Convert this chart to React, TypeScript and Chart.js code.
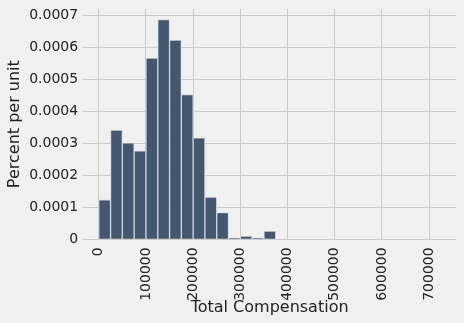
import React, { useEffect, useRef } from "react";
import { Chart, registerables } from "chart.js";

Chart.register(...registerables);

const binStarts = [0, 25000, 50000, 75000, 100000, 125000, 150000, 175000, 200000, 225000, 250000, 275000, 300000, 325000, 350000];
const binWidth = 25000;
const percentPerUnit = [0.000123, 0.000341, 0.000301, 0.000276, 0.000566, 0.000686, 0.000622, 0.000452, 0.000317, 0.000132, 0.0000833, 0.000003, 0.0000106, 0.000003, 0.000026];
const xTicks = [0, 100000, 200000, 300000, 400000, 500000, 600000, 700000];
const yTicks = [0, 0.0001, 0.0002, 0.0003, 0.0004, 0.0005, 0.0006, 0.0007];
const xTitle = "Total Compensation";
const yTitle = "Percent per unit";

export default function App() {
  const ref = useRef<HTMLCanvasElement | null>(null);
  useEffect(() => {
    if (!ref.current) return;
    const font = "'DejaVu Sans', sans-serif";
    const chart = new Chart(ref.current, {
      type: "bar",
      data: {
        datasets: [
          {
            data: binStarts.map((s, i) => ({ x: s + binWidth / 2, y: percentPerUnit[i] })),
            backgroundColor: "#45566f",
            borderColor: "#d3d6db",
            borderWidth: 1,
            barPercentage: 1,
            categoryPercentage: 1,
          },
        ],
      },
      options: {
        responsive: false,
        animation: false,
        layout: { padding: { top: 0, right: 8, left: 5, bottom: 6 } },
        plugins: { legend: { display: false }, tooltip: { enabled: false } },
        scales: {
          x: {
            type: "linear",
            offset: false,
            min: -33000,
            max: 757000,
            afterBuildTicks: (scale: any) => {
              scale.ticks = xTicks.map((v) => ({ value: v }));
            },
            afterFit: (scale: any) => {
              scale.height -= 11;
            },
            ticks: {
              autoSkip: false,
              maxRotation: 90,
              minRotation: 90,
              padding: 8,
              color: "#222",
              font: { family: font, size: 14 },
              callback: (v: any) => String(v),
            },
            grid: { offset: false, color: "#cbcbcb", lineWidth: 1, drawTicks: false },
            border: { display: false },
            title: { display: true, text: xTitle, color: "#222", font: { family: font, size: 16 }, padding: { top: 0, bottom: 0 } },
          },
          y: {
            type: "linear",
            min: 0,
            max: 0.000719,
            afterBuildTicks: (scale: any) => {
              scale.ticks = yTicks.map((v) => ({ value: v }));
            },
            afterFit: (scale: any) => {
              scale.paddingTop = 9;
            },
            ticks: {
              padding: 5,
              color: "#222",
              font: { family: font, size: 14 },
              callback: (v: any) => (v === 0 ? "0" : Number(v).toFixed(4)),
            },
            grid: { color: "#cbcbcb", lineWidth: 1, drawTicks: false },
            border: { display: false },
            title: { display: true, text: yTitle, color: "#222", font: { family: font, size: 16 }, padding: { top: 0, bottom: 0 } },
          },
        },
      },
    });
    return () => chart.destroy();
  }, []);
  return (
    <div style={{ position: "fixed", left: 0, top: 0, width: 464, height: 323, background: "#f0f0f0" }}>
      <canvas ref={ref} width={464} height={323} style={{ display: "block" }} />
    </div>
  );
}
